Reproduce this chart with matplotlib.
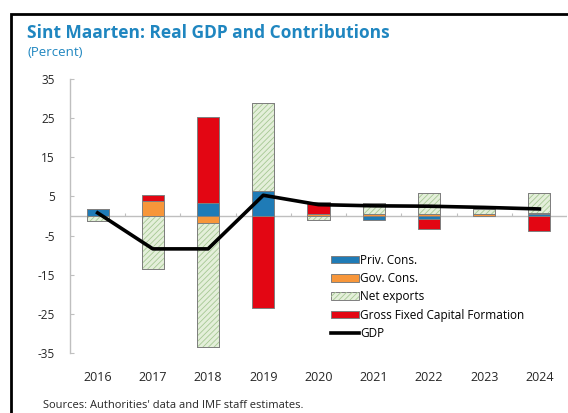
import matplotlib
matplotlib.use("Agg")
import matplotlib.pyplot as plt
import numpy as np
from matplotlib.patches import Rectangle, Patch
from matplotlib.lines import Line2D
from matplotlib.legend_handler import HandlerTuple


years = ["2016", "2017", "2018", "2019", "2020", "2021", "2022", "2023", "2024"]
priv_cons = [1.8, 0.0, 3.2, 6.4, 0.0, -0.9, -0.7, 0.0, 0.5]
gov_cons = [0.0, 3.8, -1.7, 0.0, 0.4, 0.4, 0.5, 0.4, 0.3]
net_exports = [-1.2, -13.5, -31.7, 22.5, -0.9, 3.0, 5.5, 1.5, 5.2]
gfcf = [0.0, 1.5, 22.0, -23.4, 3.2, 0.0, -2.6, 0.0, -3.9]
gdp = [0.8, -8.4, -8.4, 5.3, 2.9, 2.6, 2.5, 2.2, 1.8]

yticks = [35, 25, 15, 5, -5, -15, -25, -35]

BLUE = "#1f7bb6"
ORANGE = "#f7963a"
GREEN = "#e4efda"
HATCH = "#a6c894"
RED = "#e30613"
TITLE = "#1f86c0"
EDGE = "#7f7f7f"


def setup_style() -> None:
    plt.rcParams.update(
        {
            "font.family": ["Open Sans", "DejaVu Sans"],
            "font.size": 9,
            "hatch.linewidth": 0.6,
            "figure.facecolor": "white",
            "axes.facecolor": "white",
        }
    )


def main() -> None:
    setup_style()
    fig = plt.figure(figsize=(5.68, 4.13), dpi=100)
    ax = fig.add_axes([70 / 568, 1 - 353 / 413, 497 / 568, 274 / 413])

    x = np.arange(len(years))
    width = 0.4
    pos_base = np.zeros(len(years))
    neg_base = np.zeros(len(years))
    series = [
        (priv_cons, BLUE, False),
        (gov_cons, ORANGE, False),
        (net_exports, GREEN, True),
        (gfcf, RED, False),
    ]
    for values, color, hatched in series:
        vals = np.array(values)
        bottom = np.where(vals >= 0, pos_base, neg_base)
        ax.bar(x, vals, width, bottom=bottom, color=color, edgecolor=EDGE,
               linewidth=0.7, zorder=2)
        if hatched:
            ax.bar(x, vals, width, bottom=bottom, facecolor="none",
                   edgecolor=HATCH, linewidth=0, hatch="//////", zorder=2)
            ax.bar(x, vals, width, bottom=bottom, facecolor="none",
                   edgecolor=EDGE, linewidth=0.7, zorder=2)
        pos_base = pos_base + np.where(vals > 0, vals, 0)
        neg_base = neg_base + np.where(vals < 0, vals, 0)

    ax.plot(x, gdp, color="black", linewidth=2.6, zorder=3)

    # zero line with small category separators
    ax.axhline(0, color="#bfbfbf", linewidth=1.0, zorder=1)
    ax.vlines(x + 0.5, 0, 0.8, color="#bfbfbf", linewidth=0.8, zorder=1)

    ax.set_xlim(-0.5, len(years) - 0.5)
    ax.set_ylim(-35, 35)
    ax.set_yticks(yticks)
    ax.set_yticklabels([str(v) for v in yticks])
    ax.set_xticks(x)
    ax.set_xticklabels(years)
    ax.tick_params(axis="y", direction="in", length=3, color="#bfbfbf",
                   labelsize=8.5, labelcolor="#262626", pad=11)
    ax.tick_params(axis="x", length=0, labelsize=9, labelcolor="#262626", pad=13)
    for side in ["top", "right", "bottom"]:
        ax.spines[side].set_visible(False)
    ax.spines["left"].set_color("#bfbfbf")
    ax.spines["left"].set_linewidth(1.0)

    handles = [
        Patch(facecolor=BLUE, edgecolor=EDGE, linewidth=0.7),
        Patch(facecolor=ORANGE, edgecolor=EDGE, linewidth=0.7),
        (Patch(facecolor=GREEN, edgecolor=EDGE, linewidth=0.7),
         Patch(facecolor="none", edgecolor=HATCH, linewidth=0, hatch="//////")),
        Patch(facecolor=RED, edgecolor=EDGE, linewidth=0.7),
        Line2D([], [], color="black", linewidth=2.6),
    ]
    labels = ["Priv. Cons.", "Gov. Cons.", "Net exports",
              "Gross Fixed Capital Formation", "GDP"]
    ax.legend(handles, labels, loc="upper left", bbox_to_anchor=(0.515, 0.38),
              frameon=False, fontsize=8.5, handlelength=2.4, handleheight=0.6,
              handletextpad=0.1, labelspacing=0.45, borderaxespad=0,
              handler_map={tuple: HandlerTuple(ndivide=1, pad=0)})

    fig.text(27 / 568, 1 - 38 / 413, "Sint Maarten: Real GDP and Contributions",
             color=TITLE, fontsize=12.5, fontweight="bold", ha="left", va="baseline")
    fig.text(27 / 568, 1 - 56 / 413, "(Percent)", color=TITLE, fontsize=9.5,
             ha="left", va="baseline")
    fig.text(43 / 568, 1 - 408 / 413, "Sources: Authorities' data and IMF staff estimates.",
             color="#262626", fontsize=8, ha="left", va="baseline")

    fig.patches.append(Rectangle((11 / 568, -0.2), 1.2, 1.2 - 14 / 413,
                                 transform=fig.transFigure, fill=False,
                                 edgecolor="black", linewidth=2.0))

    fig.savefig("out.png", dpi=100)
    plt.close(fig)


if __name__ == "__main__":
    main()
